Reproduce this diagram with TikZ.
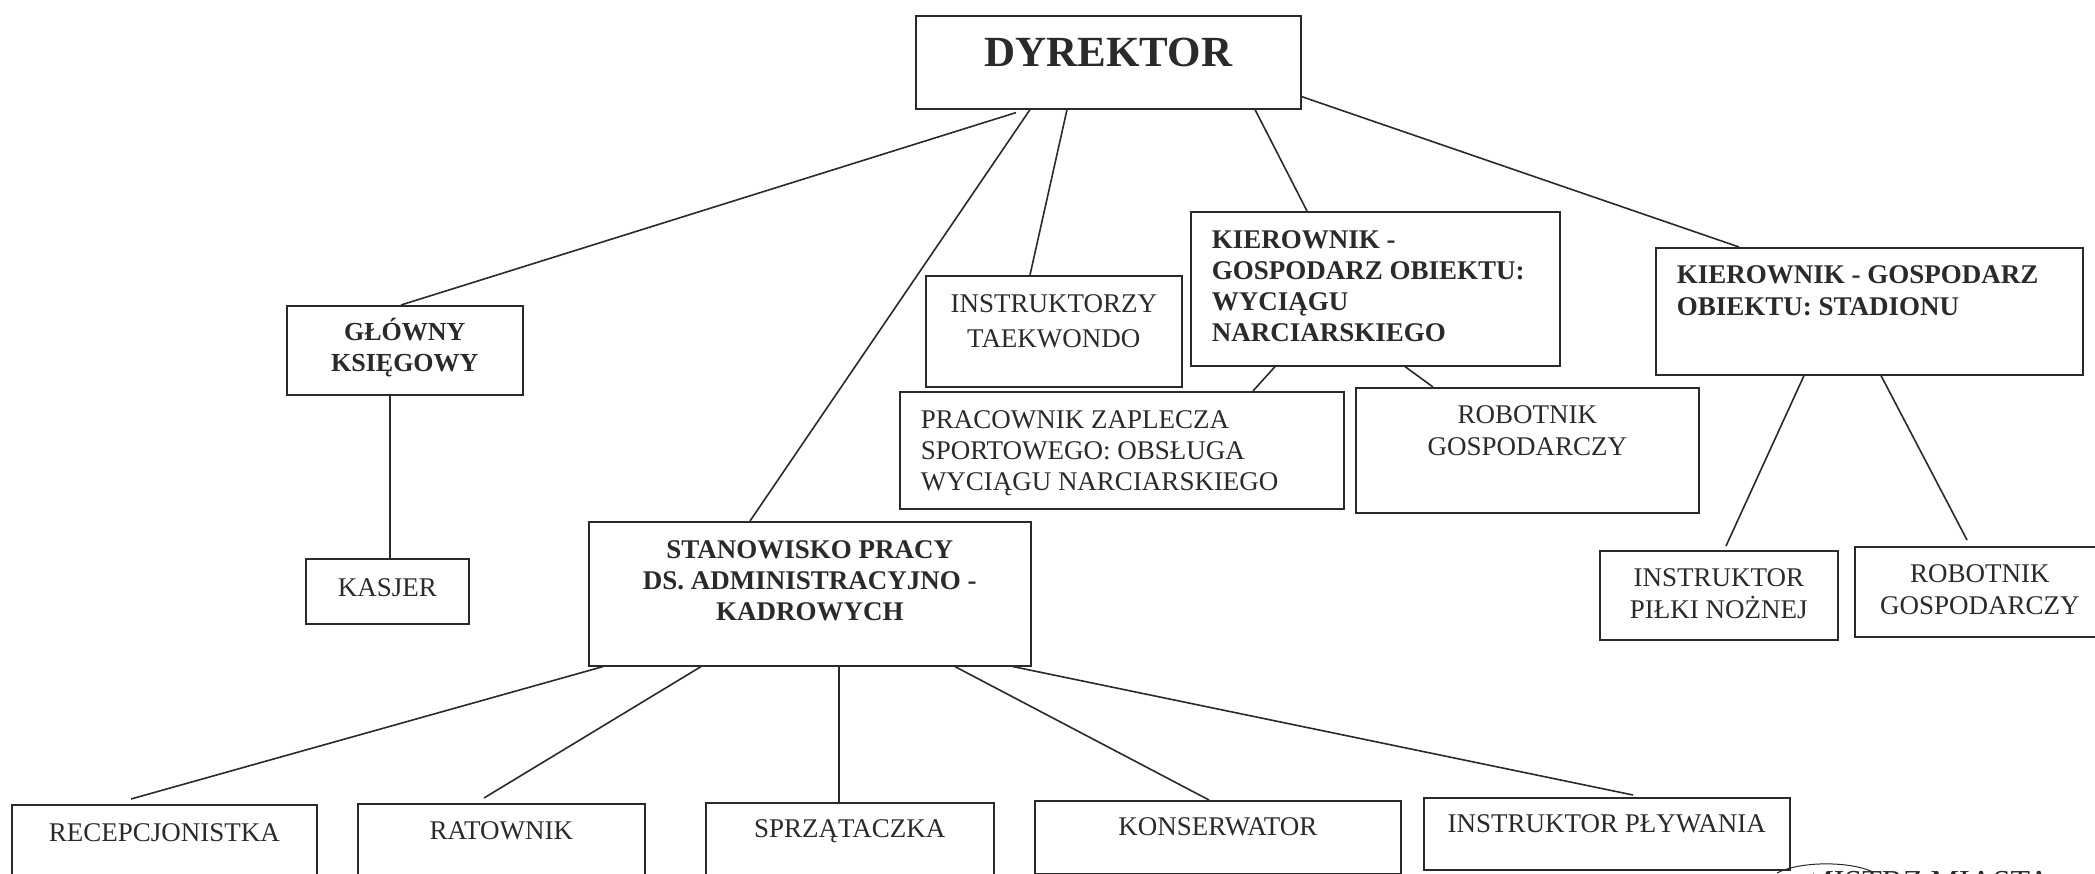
\documentclass[tikz,border=0pt]{standalone}
\usepackage{fontspec}
\setmainfont{Liberation Serif}
\definecolor{ink}{HTML}{2A2A2A}
\tikzset{
  orgbox/.style={draw=ink,line width=1.6pt,inner sep=0pt,anchor=north west,fill=white},
  link/.style={draw=ink,line width=1.6pt},
}
\newcommand{\lbl}[2][31]{\fontsize{27}{#1}\selectfont #2}
% width, height, top pad, alignment, text
\newcommand{\inbox}[5]{\parbox[t][#2pt][t]{#1pt}{\vspace*{#3pt}#4 #5\par}}
\begin{document}
\begin{tikzpicture}[x=1pt,y=-1pt,text=ink]
\useasboundingbox (0,0) rectangle (2095,874);
\clip (0,0) rectangle (2095,874);
\fill[white] (0,0) rectangle (2095,874);
\node[orgbox] (dyr) at (915,15) {\inbox{385}{93}{22}{\centering}{\fontsize{43}{48}\selectfont\bfseries DYREKTOR}};
\node[orgbox] (gk) at (286,305) {\inbox{236}{89}{12}{\centering}{\fontsize{26}{31}\selectfont\bfseries GŁÓWNY\\KSIĘGOWY}};
\node[orgbox] (kas) at (305,558) {\inbox{163}{65}{20}{\centering}{\lbl{KASJER}}};
\node[orgbox] (stan) at (588,521) {\inbox{442}{144}{19}{\centering}{\lbl{\bfseries STANOWISKO PRACY\\DS. ADMINISTRACYJNO -\\KADROWYCH}}};
\node[orgbox] (ins) at (925,275) {\inbox{256}{111}{19}{\centering}{\lbl[35]{INSTRUKTORZY\\TAEKWONDO}}};
\node[orgbox] (kier) at (1190,211) {\inbox{369}{154}{19}{\leftskip=21pt\relax}{\lbl{\bfseries KIEROWNIK -\\GOSPODARZ OBIEKTU:\\WYCIĄGU\\NARCIARSKIEGO}}};
\node[orgbox] (prac) at (899,391) {\inbox{444}{117}{19}{\leftskip=21pt\relax}{\lbl{PRACOWNIK ZAPLECZA\\SPORTOWEGO: OBSŁUGA\\WYCIĄGU NARCIARSKIEGO}}};
\node[orgbox] (rob) at (1355,387) {\inbox{343}{125}{18}{\centering}{\lbl[32]{ROBOTNIK\\GOSPODARCZY}}};
\node[orgbox] (kierb) at (1655,247) {\inbox{427}{127}{18}{\leftskip=21pt\relax}{\lbl[32]{\bfseries KIEROWNIK - GOSPODARZ\\OBIEKTU: STADIONU}}};
\node[orgbox] (inp) at (1599,550) {\inbox{238}{89}{18}{\centering}{\lbl[32]{INSTRUKTOR\\PIŁKI NOŻNEJ}}};
\node[orgbox] (robb) at (1854,546) {\inbox{250}{90}{18}{\centering}{\lbl[32]{ROBOTNIK\\GOSPODARCZY}}};
\node[orgbox] (rec) at (11,804) {\inbox{305}{72}{19}{\centering}{\lbl{RECEPCJONISTKA}}};
\node[orgbox] (rat) at (357,803) {\inbox{287}{72}{18}{\centering}{\lbl{RATOWNIK}}};
\node[orgbox] (spr) at (705,802) {\inbox{288}{72}{17}{\centering}{\lbl{SPRZĄTACZKA}}};
\node[orgbox] (kon) at (1034,800) {\inbox{366}{73}{17}{\centering}{\lbl{KONSERWATOR}}};
\node[orgbox] (ply) at (1423,797) {\inbox{366}{72}{17}{\centering}{\lbl{INSTRUKTOR PŁYWANIA}}};
\draw[link] ([xshift=101pt,yshift=-3pt]dyr.south west) -- ([xshift=115pt]gk.north west);
\draw[link] ([xshift=115pt]dyr.south west) -- ([xshift=162pt]stan.north west);
\draw[link] ([xshift=152pt]dyr.south west) -- ([xshift=105pt]ins.north west);
\draw[link] ([xshift=340pt]dyr.south west) -- ([xshift=117pt]kier.north west);
\draw[link] ([yshift=13pt]dyr.south east) -- ([xshift=84pt]kierb.north west);
\draw[link] ([xshift=104pt]gk.south west) -- ([xshift=85pt]kas.north west);
\draw[link] ([xshift=85pt]kier.south west) -- ([xshift=354pt]prac.north west);
\draw[link] ([xshift=215pt]kier.south west) -- ([xshift=78pt]rob.north west);
\draw[link] ([xshift=149pt]kierb.south west) -- ([xshift=127pt,yshift=4pt]inp.north west);
\draw[link] ([xshift=226pt]kierb.south west) -- ([xshift=113pt,yshift=6pt]robb.north west);
\draw[link] ([xshift=15pt]stan.south west) -- ([xshift=120pt,yshift=5pt]rec.north west);
\draw[link] ([xshift=113pt]stan.south west) -- ([xshift=127pt,yshift=5pt]rat.north west);
\draw[link] ([xshift=251pt]stan.south west) -- ([xshift=134pt]spr.north west);
\draw[link] ([xshift=367pt]stan.south west) -- ([xshift=175pt]kon.north west);
\draw[link] ([xshift=425pt]stan.south west) -- ([xshift=210pt,yshift=2pt]ply.north west);
\begin{scope}
\clip (1813,860) rectangle (2095,874);
\node[anchor=base east,inner sep=0pt,font=\fontsize{32}{36}\selectfont] (stamp) at (2051,892) {BURMISTRZ MIASTA};
\end{scope}
\coordinate (sa) at (1777,873);
\coordinate (sb) at (1873,872);
\draw[link,line width=1pt] (sa) .. controls (1800,861) and (1850,861) .. (sb);
\end{tikzpicture}
\end{document}
